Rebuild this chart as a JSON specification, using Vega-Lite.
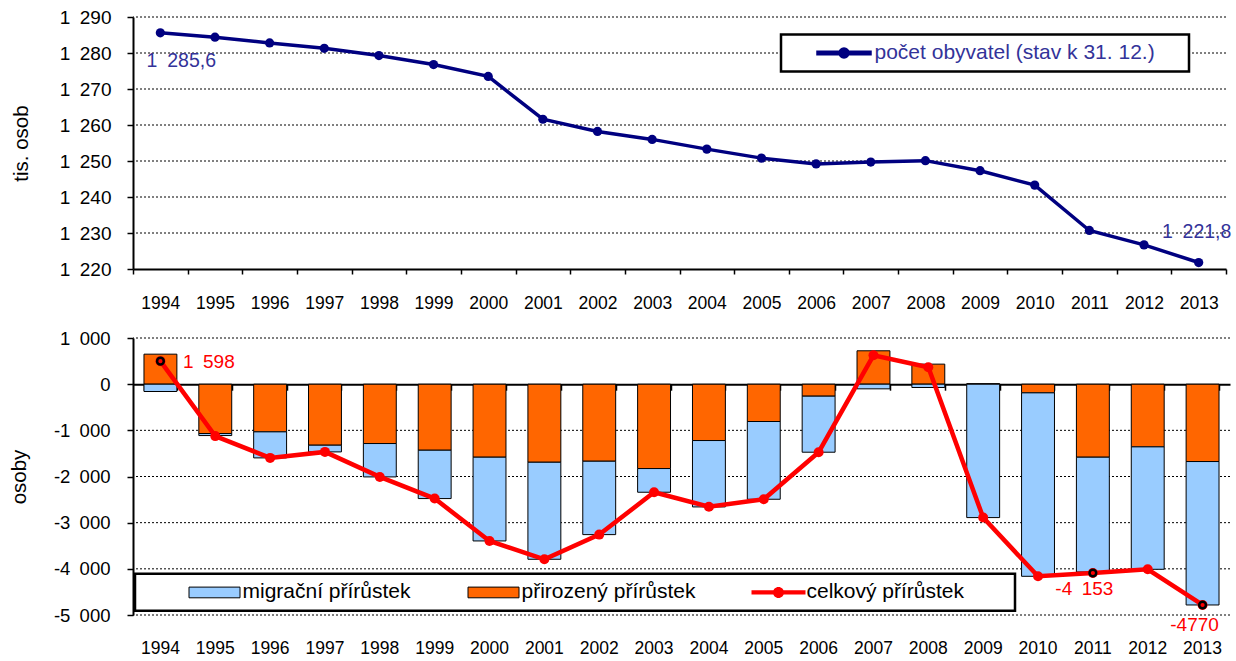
{
  "$schema": "https://vega.github.io/schema/vega-lite/v6.json",
  "padding": {"left": 9, "top": 8, "right": 5, "bottom": 5},
  "background": "white",
  "bounds": "flush",
  "spacing": 69,
  "config": {
    "font": "Liberation Sans",
    "view": {"stroke": null},
    "axis": {
      "domainColor": "black",
      "tickColor": "black",
      "labelColor": "black",
      "titleColor": "black",
      "titleFontWeight": "normal",
      "labelOverlap": false
    },
    "legend": {"titleFontWeight": "normal"}
  },
  "resolve": {"scale": {"color": "independent"}, "legend": {"color": "independent"}},
  "datasets": {
    "pop": [
      {"rok": "1994", "pocet": 1285.6, "popisek": "1\u2002285,6"},
      {"rok": "1995", "pocet": 1284.4},
      {"rok": "1996", "pocet": 1282.8},
      {"rok": "1997", "pocet": 1281.3},
      {"rok": "1998", "pocet": 1279.3},
      {"rok": "1999", "pocet": 1276.8},
      {"rok": "2000", "pocet": 1273.5},
      {"rok": "2001", "pocet": 1261.6},
      {"rok": "2002", "pocet": 1258.2},
      {"rok": "2003", "pocet": 1256.0},
      {"rok": "2004", "pocet": 1253.3},
      {"rok": "2005", "pocet": 1250.8},
      {"rok": "2006", "pocet": 1249.2},
      {"rok": "2007", "pocet": 1249.7},
      {"rok": "2008", "pocet": 1250.1},
      {"rok": "2009", "pocet": 1247.3},
      {"rok": "2010", "pocet": 1243.3},
      {"rok": "2011", "pocet": 1230.7},
      {"rok": "2012", "pocet": 1226.7},
      {"rok": "2013", "pocet": 1221.8, "popisek": "1\u2002221,8"}
    ],
    "mrizka_horni": [
      {"g": 1230}, {"g": 1240}, {"g": 1250}, {"g": 1260}, {"g": 1270}, {"g": 1280}, {"g": 1290}
    ],
    "mrizka_dolni": [
      {"g": -5000}, {"g": -4000}, {"g": -3000}, {"g": -2000}, {"g": -1000}, {"g": 1000}
    ],
    "bars": [
      {"rok": "1994", "typ": "přirozený přírůstek", "hodnota": 650},
      {"rok": "1994", "typ": "migrační přírůstek", "hodnota": -159},
      {"rok": "1995", "typ": "přirozený přírůstek", "hodnota": -1069},
      {"rok": "1995", "typ": "migrační přírůstek", "hodnota": -44},
      {"rok": "1996", "typ": "přirozený přírůstek", "hodnota": -1033},
      {"rok": "1996", "typ": "migrační přírůstek", "hodnota": -564},
      {"rok": "1997", "typ": "přirozený přírůstek", "hodnota": -1322},
      {"rok": "1997", "typ": "migrační přírůstek", "hodnota": -145},
      {"rok": "1998", "typ": "přirozený přírůstek", "hodnota": -1286},
      {"rok": "1998", "typ": "migrační přírůstek", "hodnota": -723},
      {"rok": "1999", "typ": "přirozený přírůstek", "hodnota": -1431},
      {"rok": "1999", "typ": "migrační přírůstek", "hodnota": -1047},
      {"rok": "2000", "typ": "přirozený přírůstek", "hodnota": -1582},
      {"rok": "2000", "typ": "migrační přírůstek", "hodnota": -1814},
      {"rok": "2001", "typ": "přirozený přírůstek", "hodnota": -1691},
      {"rok": "2001", "typ": "migrační přírůstek", "hodnota": -2102},
      {"rok": "2002", "typ": "přirozený přírůstek", "hodnota": -1669},
      {"rok": "2002", "typ": "migrační přírůstek", "hodnota": -1590},
      {"rok": "2003", "typ": "přirozený přírůstek", "hodnota": -1828},
      {"rok": "2003", "typ": "migrační přírůstek", "hodnota": -513},
      {"rok": "2004", "typ": "přirozený přírůstek", "hodnota": -1221},
      {"rok": "2004", "typ": "migrační přírůstek", "hodnota": -1438},
      {"rok": "2005", "typ": "přirozený přírůstek", "hodnota": -809},
      {"rok": "2005", "typ": "migrační přírůstek", "hodnota": -1684},
      {"rok": "2006", "typ": "přirozený přírůstek", "hodnota": -260},
      {"rok": "2006", "typ": "migrační přírůstek", "hodnota": -1214},
      {"rok": "2007", "typ": "přirozený přírůstek", "hodnota": 723},
      {"rok": "2007", "typ": "migrační přírůstek", "hodnota": -101},
      {"rok": "2008", "typ": "přirozený přírůstek", "hodnota": 434},
      {"rok": "2008", "typ": "migrační přírůstek", "hodnota": -72},
      {"rok": "2009", "typ": "přirozený přírůstek", "hodnota": 10},
      {"rok": "2009", "typ": "migrační přírůstek", "hodnota": -2890},
      {"rok": "2010", "typ": "přirozený přírůstek", "hodnota": -188},
      {"rok": "2010", "typ": "migrační přírůstek", "hodnota": -3974},
      {"rok": "2011", "typ": "přirozený přírůstek", "hodnota": -1582},
      {"rok": "2011", "typ": "migrační přírůstek", "hodnota": -2486},
      {"rok": "2012", "typ": "přirozený přírůstek", "hodnota": -1358},
      {"rok": "2012", "typ": "migrační přírůstek", "hodnota": -2652},
      {"rok": "2013", "typ": "přirozený přírůstek", "hodnota": -1676},
      {"rok": "2013", "typ": "migrační přírůstek", "hodnota": -3107}
    ],
    "total": [
      {"rok": "1994", "celkem": 499, "popisek": "1\u2002598"},
      {"rok": "1995", "celkem": -1125},
      {"rok": "1996", "celkem": -1597},
      {"rok": "1997", "celkem": -1467},
      {"rok": "1998", "celkem": -2009},
      {"rok": "1999", "celkem": -2478},
      {"rok": "2000", "celkem": -3396},
      {"rok": "2001", "celkem": -3793},
      {"rok": "2002", "celkem": -3259},
      {"rok": "2003", "celkem": -2341},
      {"rok": "2004", "celkem": -2655},
      {"rok": "2005", "celkem": -2493},
      {"rok": "2006", "celkem": -1474},
      {"rok": "2007", "celkem": 625},
      {"rok": "2008", "celkem": 366},
      {"rok": "2009", "celkem": -2890},
      {"rok": "2010", "celkem": -4162},
      {"rok": "2011", "celkem": -4090, "popisek": "-4\u2002153"},
      {"rok": "2012", "celkem": -4010},
      {"rok": "2013", "celkem": -4783, "popisek": "-4770"}
    ]
  },
  "vconcat": [
    {
      "width": 1093,
      "height": 252,
      "layer": [
        {
          "data": {"name": "mrizka_horni"},
          "mark": {"type": "rule", "color": "black", "strokeWidth": 1, "strokeDash": [2, 2]},
          "encoding": {
            "y": {
              "field": "g", "type": "quantitative", "title": "tis. osob",
              "scale": {"domain": [1220, 1290], "nice": false, "zero": false},
              "axis": {
                "title": "tis. osob", "titleFontSize": 20.5, "titleX": -112, "titleBaseline": "middle",
                "values": [1220, 1230, 1240, 1250, 1260, 1270, 1280, 1290], "tickCount": 20,
                "labelExpr": "replace(format(datum.value, ','), ',', '\u2002')",
                "labelFontSize": 19, "labelPadding": 16, "tickSize": 6, "tickWidth": 1.5, "domainWidth": 2, "grid": false, "labelOverlap": false
              }
            }
          }
        },
        {
          "data": {"name": "pop"},
          "mark": {"type": "line", "strokeWidth": 3.5},
          "encoding": {
            "x": {
              "field": "rok", "type": "nominal", "bandPosition": 0.5,
              "scale": {"type": "band", "paddingInner": 0, "paddingOuter": 0},
              "axis": {"title": null, "labelAngle": 0, "labelFontSize": 17.5, "labelPadding": 20, "domainWidth": 2, "tickSize": 5, "tickWidth": 1.5, "tickBand": "extent", "grid": false}
            },
            "y": {
              "field": "pocet", "type": "quantitative", "title": "tis. osob",
              "axis": {
                "title": "tis. osob", "titleFontSize": 20.5, "titleX": -112, "titleBaseline": "middle",
                "values": [1220, 1230, 1240, 1250, 1260, 1270, 1280, 1290], "tickCount": 20,
                "labelExpr": "replace(format(datum.value, ','), ',', '\u2002')",
                "labelFontSize": 19, "labelPadding": 16, "tickSize": 6, "tickWidth": 1.5, "domainWidth": 2, "grid": false, "labelOverlap": false
              }
            },
            "color": {
              "datum": "počet obyvatel (stav k 31. 12.)",
              "scale": {"range": ["#000080"]},
              "legend": {
                "title": null,
                "orient": "none", "legendX": 648, "legendY": 17.5,
                "symbolType": "M-5.4,-0.37H5.4V0.37H-5.4Z M-1,0A1,1 0 1,1 1,0A1,1 0 1,1 -1,0Z M66.8,0",
                "symbolSize": 100, "symbolOffset": 44.5, "labelOffset": 20,
                "labelFontSize": 21, "labelColor": "#333399", "labelLimit": 500,
                "padding": 8, "strokeColor": "black", "fillColor": "white",
                "encoding": {
                  "legend": {"strokeWidth": {"value": 2.5}},
                  "symbols": {
                    "shape": {"value": "M-5.4,-0.37H5.4V0.37H-5.4Z M-1,0A1,1 0 1,1 1,0A1,1 0 1,1 -1,0Z M66.8,0"},
                    "fill": {"value": "#000080"},
                    "stroke": {"value": "transparent"},
                    "opacity": {"value": 1}
                  }
                }
              }
            }
          }
        },
        {
          "data": {"name": "pop"},
          "mark": {"type": "circle", "size": 85, "opacity": 1, "color": "#000080"},
          "encoding": {
            "x": {"field": "rok", "type": "nominal", "bandPosition": 0.5},
            "y": {"field": "pocet", "type": "quantitative", "title": "tis. osob"}
          }
        },
        {
          "data": {"name": "pop"},
          "transform": [{"filter": "datum.rok == '1994'"}],
          "mark": {"type": "text", "fontSize": 19.5, "color": "#333399", "align": "center", "baseline": "middle", "dx": 21, "dy": 28.5},
          "encoding": {
            "x": {"field": "rok", "type": "nominal", "bandPosition": 0.5},
            "y": {"field": "pocet", "type": "quantitative", "title": "tis. osob"},
            "text": {"field": "popisek"}
          }
        },
        {
          "data": {"name": "pop"},
          "transform": [{"filter": "datum.rok == '2013'"}],
          "mark": {"type": "text", "fontSize": 19.5, "color": "#333399", "align": "center", "baseline": "middle", "dx": -2, "dy": -31},
          "encoding": {
            "x": {"field": "rok", "type": "nominal", "bandPosition": 0.5},
            "y": {"field": "pocet", "type": "quantitative", "title": "tis. osob"},
            "text": {"field": "popisek"}
          }
        }
      ]
    },
    {
      "width": 1097,
      "height": 277,
      "resolve": {"axis": {"x": "independent"}},
      "layer": [
        {
          "data": {"name": "mrizka_dolni"},
          "mark": {"type": "rule", "color": "black", "strokeWidth": 1, "strokeDash": [2, 2]},
          "encoding": {
            "y": {
              "field": "g", "type": "quantitative", "title": "osoby",
              "scale": {"domain": [-5000, 1000], "nice": false},
              "axis": {
                "title": "osoby", "titleFontSize": 20.5, "titleX": -113.5, "titleBaseline": "middle",
                "values": [-5000, -4000, -3000, -2000, -1000, 0, 1000], "tickCount": 20,
                "labelExpr": "replace(replace(format(datum.value, ','), ',', '\u2002'), '\u2212', '-')",
                "labelFontSize": 18.5, "labelPadding": 17, "tickSize": 6, "tickWidth": 1.5, "domainWidth": 2, "grid": false, "labelOverlap": false
              }
            }
          }
        },
        {
          "data": {"name": "bars"},
          "mark": {"type": "bar", "stroke": "black", "strokeWidth": 1},
          "encoding": {
            "x": {
              "field": "rok", "type": "nominal",
              "scale": {"type": "band", "paddingInner": 0.4, "paddingOuter": 0.2},
              "axis": {"title": null, "labelAngle": 0, "labelFontSize": 17.5, "labelPadding": 24, "domain": false, "ticks": false, "grid": false}
            },
            "y": {
              "field": "hodnota", "type": "quantitative", "stack": "zero", "title": "osoby",
              "axis": {
                "title": "osoby", "titleFontSize": 20.5, "titleX": -113.5, "titleBaseline": "middle",
                "values": [-5000, -4000, -3000, -2000, -1000, 0, 1000], "tickCount": 20,
                "labelExpr": "replace(replace(format(datum.value, ','), ',', '\u2002'), '\u2212', '-')",
                "labelFontSize": 18.5, "labelPadding": 17, "tickSize": 6, "tickWidth": 1.5, "domainWidth": 2, "grid": false, "labelOverlap": false
              }
            },
            "color": {
              "field": "typ", "type": "nominal",
              "scale": {"domain": ["migrační přírůstek", "přirozený přírůstek", "celkový přírůstek"], "range": ["#99ccff", "#ff6600", "#ff0000"]},
              "legend": {
                "title": null,
                "orient": "none", "legendX": 2, "legendY": 235.7,
                "direction": "horizontal", "columns": 3, "gridAlign": "each", "columnPadding": 11,
                "symbolSize": 100, "symbolOffset": 61, "labelOffset": 17.5,
                "labelFontSize": 21, "labelColor": "black", "labelLimit": 500,
                "padding": 8, "strokeColor": "black", "fillColor": "white",
                "encoding": {
                  "legend": {"strokeWidth": {"value": 2.5}},
                  "symbols": {
                    "shape": {"value": {"expr": "datum.value === 'celkový přírůstek' ? 'M-5.4,-0.43H5.4V0.43H-5.4Z M-1.1,0A1.1,1.1 0 1,1 1.1,0A1.1,1.1 0 1,1 -1.1,0Z M45.2,0' : 'M-5.1,-1.07H5.1V1.07H-5.1Z'"}},
                    "stroke": {"value": {"expr": "datum.value === 'celkový přírůstek' ? 'transparent' : 'black'"}},
                    "strokeWidth": {"value": 1},
                    "opacity": {"value": 1}
                  }
                }
              }
            },
            "order": {"field": "typ", "sort": "descending"}
          }
        },
        {
          "data": {"name": "total"},
          "mark": {"type": "line", "color": "#ff0000", "strokeWidth": 4.5},
          "encoding": {
            "x": {
              "field": "rok", "type": "nominal", "bandPosition": 0.5,
              "axis": {"orient": "bottom", "offset": -230.8, "labels": false, "title": null, "domain": true, "domainWidth": 2, "ticks": true, "tickSize": 6, "tickWidth": 1.5, "tickBand": "extent", "grid": false}
            },
            "y": {"field": "celkem", "type": "quantitative", "title": "osoby"}
          }
        },
        {
          "data": {"name": "total"},
          "mark": {"type": "circle", "color": "#ff0000", "size": 100, "opacity": 1},
          "encoding": {
            "x": {"field": "rok", "type": "nominal", "bandPosition": 0.5, "axis": null},
            "y": {"field": "celkem", "type": "quantitative", "title": "osoby"}
          }
        },
        {
          "data": {"name": "total"},
          "transform": [{"filter": "isValid(datum.popisek)"}],
          "mark": {"type": "circle", "fill": "#ff0000", "stroke": "black", "strokeWidth": 2.5, "size": 45, "opacity": 1},
          "encoding": {
            "x": {"field": "rok", "type": "nominal", "bandPosition": 0.5, "axis": null},
            "y": {"field": "celkem", "type": "quantitative", "title": "osoby"}
          }
        },
        {
          "data": {"name": "total"},
          "transform": [{"filter": "datum.rok == '1994'"}],
          "mark": {"type": "text", "fontSize": 19, "color": "#ff0000", "align": "left", "baseline": "middle", "dx": 22.5, "dy": 0.5},
          "encoding": {
            "x": {"field": "rok", "type": "nominal", "bandPosition": 0.5, "axis": null},
            "y": {"field": "celkem", "type": "quantitative", "title": "osoby"},
            "text": {"field": "popisek"}
          }
        },
        {
          "data": {"name": "total"},
          "transform": [{"filter": "datum.rok == '2011'"}],
          "mark": {"type": "text", "fontSize": 19, "color": "#ff0000", "align": "center", "baseline": "middle", "dx": -8.5, "dy": 16.5},
          "encoding": {
            "x": {"field": "rok", "type": "nominal", "bandPosition": 0.5, "axis": null},
            "y": {"field": "celkem", "type": "quantitative", "title": "osoby"},
            "text": {"field": "popisek"}
          }
        },
        {
          "data": {"name": "total"},
          "transform": [{"filter": "datum.rok == '2013'"}],
          "mark": {"type": "text", "fontSize": 19, "color": "#ff0000", "align": "center", "baseline": "middle", "dx": -8, "dy": 20},
          "encoding": {
            "x": {"field": "rok", "type": "nominal", "bandPosition": 0.5, "axis": null},
            "y": {"field": "celkem", "type": "quantitative", "title": "osoby"},
            "text": {"field": "popisek"}
          }
        }
      ]
    }
  ]
}
